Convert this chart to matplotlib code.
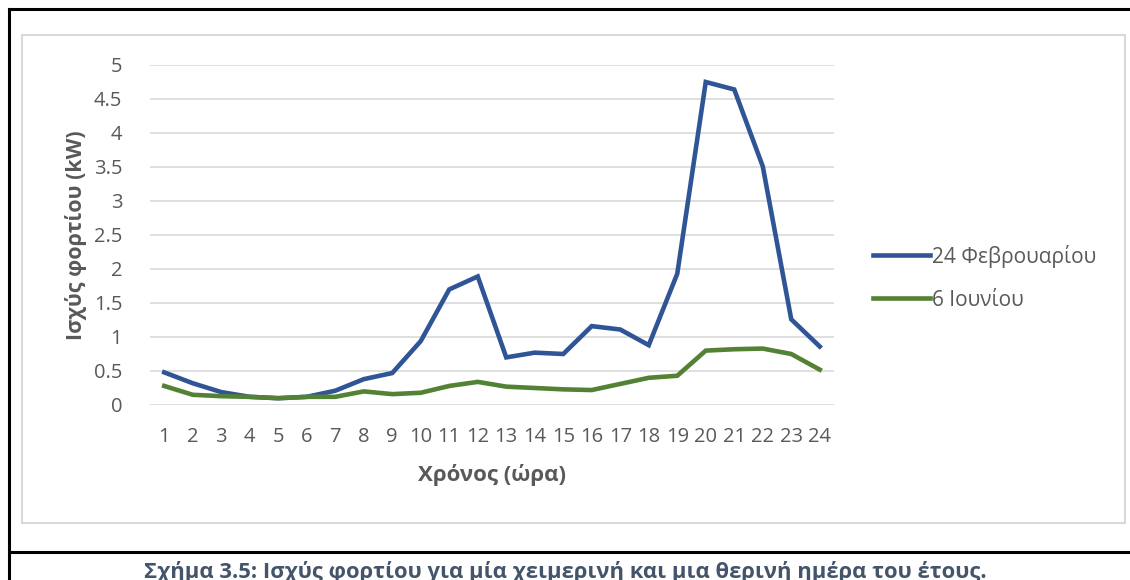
import matplotlib
matplotlib.use("Agg")
from matplotlib import pyplot as plt
from matplotlib.patches import Rectangle
from matplotlib.lines import Line2D

plt.rcParams['font.family'] = ['Open Sans', 'Noto Sans', 'DejaVu Sans']

hours = list(range(1, 25))
feb24 = [0.48, 0.32, 0.19, 0.12, 0.10, 0.12, 0.21, 0.38, 0.47, 0.94, 1.70, 1.89,
         0.70, 0.77, 0.75, 1.16, 1.11, 0.88, 1.93, 4.75, 4.64, 3.51, 1.26, 0.86]
jun6 = [0.28, 0.15, 0.13, 0.12, 0.10, 0.12, 0.12, 0.20, 0.16, 0.18, 0.28, 0.34,
        0.27, 0.25, 0.23, 0.22, 0.31, 0.40, 0.43, 0.80, 0.82, 0.83, 0.75, 0.52]
series_names = ['24 Φεβρουαρίου', '6 Ιουνίου']
yticks = [0, 0.5, 1, 1.5, 2, 2.5, 3, 3.5, 4, 4.5, 5]

W, H = 1130, 580
fig = plt.figure(figsize=(W / 100, H / 100), dpi=100)
fig.patch.set_facecolor('white')

# outer frame (black) and chart area frame (light gray)
fig.add_artist(Line2D([9 / W, 9 / W], [0, 1 - 9 / H], color='black', lw=2.2))
fig.add_artist(Line2D([9 / W, 1], [1 - 9 / H, 1 - 9 / H], color='black', lw=2.2))
fig.add_artist(Line2D([9 / W, 1], [1 - 552 / H, 1 - 552 / H], color='black', lw=2.2))
fig.add_artist(Rectangle((22 / W, 1 - 523 / H), (1125 - 22) / W, (523 - 35) / H,
                         fill=False, edgecolor='#d9d9d9', lw=1.5))

ax = fig.add_axes([150 / W, 1 - 405 / H, (834 - 150) / W, (405 - 65) / H])
ax.plot(hours, feb24, color='#2f5597', lw=3.3, solid_joinstyle='miter', label=series_names[0])
ax.plot(hours, jun6, color='#548235', lw=3.3, solid_joinstyle='miter', label=series_names[1])

ax.set_xlim(0.5, 24.5)
ax.set_ylim(0, 5)
ax.set_yticks(yticks)
ax.set_yticklabels([f'{v:g}' for v in yticks])
ax.set_xticks(hours)
ax.grid(axis='y', color='#d9d9d9', lw=1.2)
ax.set_axisbelow(True)
for s in ax.spines.values():
    s.set_visible(False)
ax.tick_params(length=0, labelsize=14.5, labelcolor='#595959')
ax.tick_params(axis='y', pad=20)
ax.tick_params(axis='x', pad=16)

ax.set_xlabel('Χρόνος (ώρα)', fontsize=16, fontweight='bold', color='#595959', labelpad=12)
ax.set_ylabel('Ισχύς φορτίου (kW)', fontsize=15.5, fontweight='bold', color='#595959', labelpad=5)

leg = ax.legend(loc='upper left', bbox_to_anchor=(854 / W, 1 - 226 / H), bbox_transform=fig.transFigure,
                frameon=False, fontsize=15, labelcolor='#595959', handlelength=2.75,
                handletextpad=0.1, labelspacing=1.05)

fig.text(565 / W, 1 - 572 / H, 'Σχήμα 3.5: Ισχύς φορτίου για μία χειμερινή και μια θερινή ημέρα του έτους.',
         ha='center', va='center', fontsize=15.8, fontweight='bold', color='#44546a')

fig.savefig('out.png', dpi=100)
